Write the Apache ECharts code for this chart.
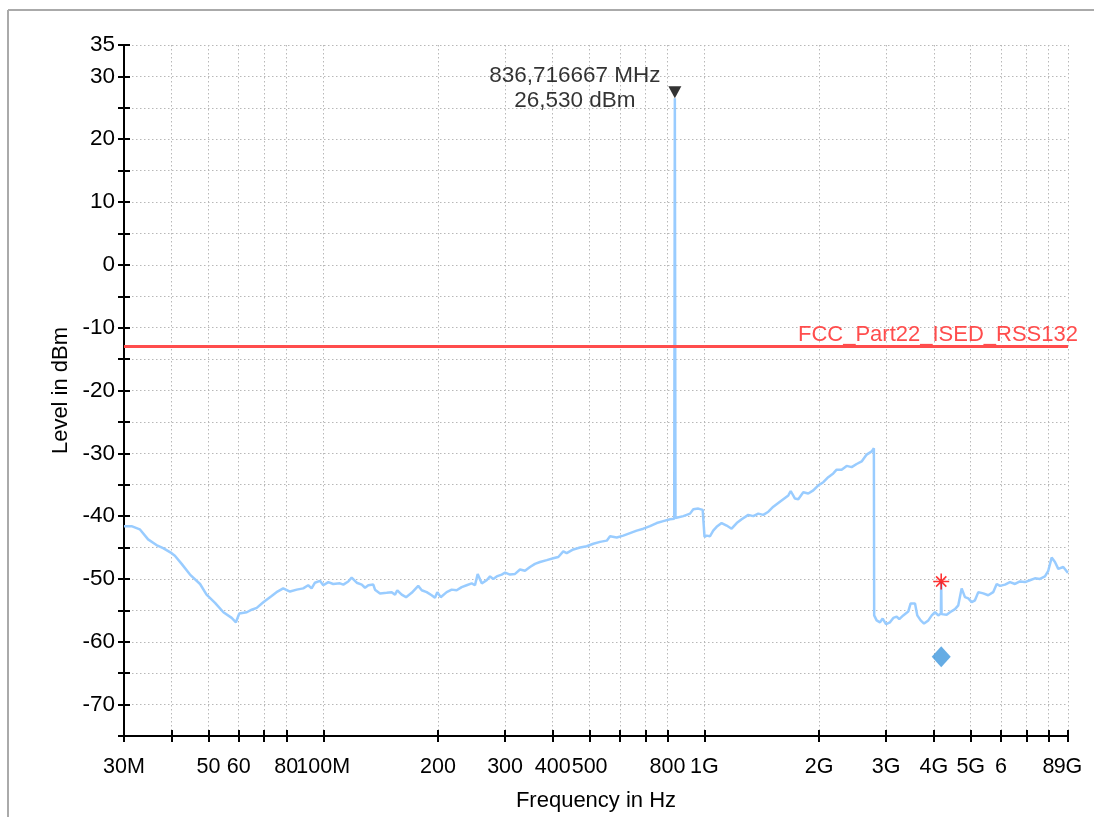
<!DOCTYPE html>
<html>
<head>
<meta charset="utf-8">
<script src="https://cdn.jsdelivr.net/npm/echarts@6/dist/echarts.min.js"></script>
<style>html,body{margin:0;padding:0;background:#fff;overflow:hidden}#c{width:1094px;height:817px}</style>
</head>
<body>
<div id="c"></div>
<script>
// ---- data (frequency in MHz, level in dBm) ----
const freqMHz = [
  30, 31.4, 33.0, 34.7, 36.5, 38.0, 40.0, 40.8, 42.5, 44.7, 47.5, 49.4, 52.0, 54.7, 57.5, 59.0, 60.2, 63.0, 64.9, 66.9,
  69.6, 73.2, 75.4, 78.5, 81.8, 85.2, 88.6, 91.3, 93.2, 95.1, 98.0, 100.0, 103.1, 106.2, 110.6, 112.9, 116.3, 118.7, 122.4, 126.2,
  128.7, 131.3, 135.3, 136.7, 140.9, 146.7, 151.2, 154.3, 156.4, 160.6, 164.9, 170.6, 177.5, 181.3, 186.8, 192.5, 196.4, 199.2, 203.3, 210.8,
  217.3, 223.9, 230.8, 237.8, 245.2, 250.1, 254.2, 260.5, 268.4, 273.9, 279.4, 285.2, 293.9, 300, 309, 318.6, 328.3, 338.3, 348.7, 359.4,
  370.5, 385.9, 401.4, 413.8, 426.4, 435.3, 453.1, 471.9, 491.2, 511.3, 532.5, 554.5, 565.6, 589, 612.7, 638.2, 664.6, 691.6, 720.1, 749.8,
  780.4, 812.7, 833.5, 836.716667, 840, 846.4, 880.8, 917.2, 935.5, 964.2, 990, 998, 1001, 1014, 1035, 1055, 1077, 1110, 1144, 1179,
  1216, 1253, 1304, 1344, 1385, 1428, 1472, 1517, 1563, 1611, 1661, 1685, 1729, 1764, 1818, 1874, 1931, 1991, 2052, 2114,
  2179, 2224, 2292, 2363, 2435, 2510, 2587, 2666, 2749, 2775, 2785, 2790, 2832, 2890, 2937, 2997, 3070, 3132, 3197, 3247,
  3326, 3428, 3478, 3571, 3620, 3695, 3771, 3870, 3951, 4030, 4110, 4175, 4183.6, 4192, 4235, 4323, 4412, 4547, 4638, 4733,
  4829, 4927, 5028, 5130, 5234, 5393, 5558, 5727, 5850, 5968, 6150, 6338, 6533, 6732, 6938, 7151, 7370, 7598, 7830, 7988,
  8154, 8318, 8486, 8745, 8958, 9000
];
const levelDbm = [
  -41.6, -41.6, -42.1, -43.7, -44.6, -45.1, -45.9, -46.3, -47.6, -49.3, -50.8, -52.5, -53.8, -55.3, -56.2, -56.9, -55.5, -55.3, -54.9, -54.6,
  -53.7, -52.7, -52.1, -51.5, -52.0, -51.7, -51.5, -51.0, -51.5, -50.6, -50.3, -51.0, -50.5, -50.8, -50.7, -50.9, -50.4, -49.8, -50.6, -50.9,
  -51.4, -51.0, -50.9, -51.7, -52.3, -52.2, -52.1, -52.5, -51.8, -52.5, -52.9, -52.2, -51.1, -51.8, -52.1, -52.6, -53.0, -52.1, -52.9, -52.1,
  -51.7, -51.8, -51.3, -51.0, -50.7, -51.0, -49.2, -50.7, -50.2, -49.6, -50.0, -49.6, -49.3, -49.0, -49.3, -49.2, -48.5, -48.7, -48.1, -47.6,
  -47.3, -47.0, -46.7, -46.5, -45.6, -45.9, -45.3, -45.0, -44.8, -44.4, -44.1, -43.9, -43.2, -43.4, -43.1, -42.7, -42.3, -42.0, -41.6, -41.1,
  -40.8, -40.5, -40.4, 26.53, -40.3, -40.2, -40.0, -39.6, -38.9, -38.8, -39.0, -38.9, -43.3, -43.1, -43.2, -42.3, -41.7, -41.1, -41.5, -42.0,
  -41.1, -40.5, -39.8, -40.0, -39.6, -39.8, -39.3, -38.5, -37.9, -37.3, -36.7, -36.0, -37.2, -37.3, -36.2, -36.4, -35.9, -35.1, -34.6, -33.8,
  -33.2, -32.6, -32.6, -32.0, -32.2, -31.7, -31.3, -30.2, -29.7, -29.4, -29.2, -55.8, -56.6, -56.9, -56.3, -57.2, -56.9, -56.2, -56.0, -56.4,
  -55.8, -55.2, -53.9, -53.9, -55.8, -56.6, -57.1, -56.6, -55.8, -55.3, -55.8, -55.5, -50.4, -55.6, -55.9, -55.7, -55.3, -54.8, -54.2, -51.5,
  -52.9, -53.1, -53.7, -53.4, -52.1, -52.3, -52.6, -52.1, -50.8, -51.1, -50.9, -50.5, -50.8, -50.4, -50.5, -50.2, -49.9, -50.0, -49.6, -48.7,
  -46.6, -47.3, -48.4, -48.1, -48.9, -49.0
];
const limitFreq = [30, 9000];
const limitLevel = [-13, -13];
const limitName = 'FCC_Part22_ISED_RSS132';
const peakFreq = [836.716667];
const peakLevel = [26.53];
const finalFreq = [4183.6];
const finalLevel = [-50.4];
const avgFreq = [4183.6];
const avgLevel = [-62.4];
const xTickValues = [30, 40, 50, 60, 70, 80, 100, 200, 300, 400, 500, 600, 700, 800, 1000, 2000, 3000, 4000, 5000, 6000, 7000, 8000, 9000];
const xLabelValues = [30, 50, 60, 80, 100, 200, 300, 400, 500, 800, 1000, 2000, 3000, 4000, 5000, 6000, 8000, 9000];
const xLabelTexts = ['30M', '50', '60', '80', '100M', '200', '300', '400', '500', '800', '1G', '2G', '3G', '4G', '5G', '6', '8', '9G'];
const yMin = -75, yMax = 35, yStep = 5;
const xMin = 30, xMax = 9000;

// ---- build ----
const FONT = 'Liberation Sans, Arial, Helvetica, sans-serif';
const FS = 22;
const nudge = v => v <= xMin ? v * (1 + 1e-6) : (v >= xMax ? v * (1 - 1e-6) : v);
const tickVals = xTickValues.map(nudge);
const labelVals = xLabelValues.map(nudge);
const mainLabelVals = labelVals.slice(0, -1);   // last label drawn by the companion axis
const lastLabelVals = labelVals.slice(-1);
function xLabelFor(v) {
  let best = 0, bd = Infinity;
  xLabelValues.forEach((lv, i) => { const d = Math.abs(Math.log(v / lv)); if (d < bd) { bd = d; best = i; } });
  return xLabelTexts[best];
}
const zip = (a, b) => a.map((v, i) => [v, b[i]]);
const comma = (v, d) => v.toFixed(d).replace('.', ',');
const gridLine = { show: true, lineStyle: { color: '#b8b8b8', width: 1, type: [1.5, 2.5] } };
const asterisk = 'path://M0 9L20 9L20 11L0 11Z M9 0L11 0L11 20L9 20Z M2.9 4.3L4.3 2.9L17.1 15.7L15.7 17.1Z M15.7 2.9L17.1 4.3L4.3 17.1L2.9 15.7Z';
const xLabelStyle = { fontFamily: FONT, fontSize: 21.5, color: '#000', margin: 20, hideOverlap: false };

const chart = echarts.init(document.getElementById('c'), null, { renderer: 'canvas', width: 1094, height: 817 });
chart.setOption({
  animation: false,
  backgroundColor: '#ffffff',
  textStyle: { fontFamily: FONT },
  grid: { left: 124, right: 26, top: 45, bottom: 75, containLabel: false },
  graphic: [
    { type: 'line', silent: true, shape: { x1: 8, y1: 10, x2: 1094, y2: 10 }, style: { stroke: '#aaaaaa', lineWidth: 2 } },
    { type: 'line', silent: true, shape: { x1: 8, y1: 10, x2: 8, y2: 817 }, style: { stroke: '#aaaaaa', lineWidth: 2 } }
  ],
  xAxis: [
    {
      type: 'log', logBase: 10, min: xMin, max: xMax, position: 'bottom',
      name: 'Frequency in Hz', nameLocation: 'middle', nameGap: 54,
      nameTextStyle: { fontFamily: FONT, fontSize: FS, color: '#000' },
      axisLine: { show: true, onZero: false, lineStyle: { color: '#000', width: 2 } },
      axisTick: { show: true, inside: false, length: 6, lineStyle: { color: '#000', width: 2 }, customValues: tickVals },
      axisLabel: Object.assign({ show: true, customValues: mainLabelVals, formatter: v => xLabelFor(v) }, xLabelStyle),
      splitLine: gridLine, minorTick: { show: false }, minorSplitLine: { show: false }
    },
    {
      type: 'log', logBase: 10, min: xMin, max: xMax, position: 'bottom', gridIndex: 0,
      axisLine: { show: false, onZero: false },
      axisTick: { show: true, inside: true, length: 6, lineStyle: { color: '#000', width: 2 }, customValues: tickVals },
      axisLabel: Object.assign({ show: true, customValues: lastLabelVals, formatter: v => xLabelFor(v) }, xLabelStyle),
      splitLine: { show: false }
    }
  ],
  yAxis: [
    {
      type: 'value', min: yMin, max: yMax, interval: yStep, position: 'left',
      name: 'Level in dBm', nameLocation: 'middle', nameGap: 52,
      nameTextStyle: { fontFamily: FONT, fontSize: FS, color: '#000' },
      axisLine: { show: true, onZero: false, lineStyle: { color: '#000', width: 2 } },
      axisTick: { show: true, inside: false, length: 6, lineStyle: { color: '#000', width: 2 } },
      axisLabel: { fontFamily: FONT, fontSize: 22.5, color: '#000', margin: 9,
        formatter: v => (v % 10 === 0 || v === yMax) ? String(v) : '' },
      splitLine: gridLine
    },
    {
      type: 'value', min: yMin, max: yMax, interval: yStep, position: 'left', gridIndex: 0,
      axisLine: { show: false, onZero: false },
      axisTick: { show: true, inside: true, length: 6, lineStyle: { color: '#000', width: 2 } },
      axisLabel: { show: false }, splitLine: { show: false }
    }
  ],
  series: [
    {
      name: 'trace', type: 'line', xAxisIndex: 0, yAxisIndex: 0,
      data: zip(freqMHz, levelDbm), showSymbol: false, symbol: 'none',
      lineStyle: { color: '#99ccff', width: 2.5 }, z: 3, silent: true
    },
    {
      name: limitName, type: 'line', xAxisIndex: 0, yAxisIndex: 0,
      data: zip(limitFreq, limitLevel), showSymbol: false, symbol: 'none',
      lineStyle: { color: '#ff4d4d', width: 3 }, z: 4, silent: true,
      endLabel: { show: true, formatter: limitName, color: '#ff4d4d', fontFamily: FONT, fontSize: FS,
        distance: 0, align: 'right', verticalAlign: 'middle', offset: [10, -12] }
    },
    {
      name: 'peak', type: 'scatter', xAxisIndex: 0, yAxisIndex: 0,
      data: zip(peakFreq, peakLevel), symbol: 'triangle', symbolRotate: 180, symbolSize: [13, 12], symbolOffset: [0, -6],
      itemStyle: { color: '#000' }, z: 6, silent: true,
      label: { show: true, position: 'inside', offset: [-100, -4], align: 'center', verticalAlign: 'middle',
        formatter: p => comma(p.value[0], 6) + ' MHz\n' + comma(p.value[1], 3) + ' dBm',
        color: '#000', fontFamily: FONT, fontSize: 22.5, lineHeight: 25 }
    },
    {
      name: 'final', type: 'scatter', xAxisIndex: 0, yAxisIndex: 0,
      data: zip(finalFreq, finalLevel), symbol: asterisk, symbolSize: 16,
      itemStyle: { color: '#ff0000' }, z: 7, silent: true
    },
    {
      name: 'average', type: 'scatter', xAxisIndex: 0, yAxisIndex: 0,
      data: zip(avgFreq, avgLevel), symbol: 'diamond', symbolSize: [19, 21],
      itemStyle: { color: '#3f97dd' }, z: 7, silent: true
    }
  ]
});
</script>
</body>
</html>
